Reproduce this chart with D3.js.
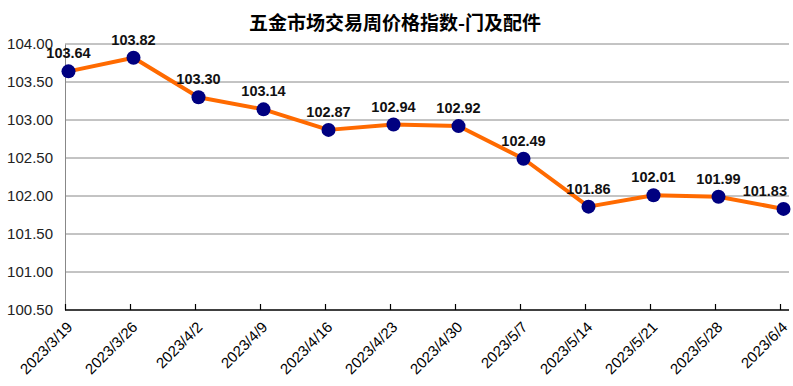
<!DOCTYPE html>
<html>
<head>
<meta charset="utf-8">
<script src="https://cdn.jsdelivr.net/npm/d3@7"></script>
<style>
  body { margin: 0; background: #fff; }
  svg { display: block; }
</style>
</head>
<body>
<svg id="chart" width="793" height="386"></svg>
<script>
var dates = ["2023/3/19", "2023/3/26", "2023/4/2", "2023/4/9", "2023/4/16", "2023/4/23",
             "2023/4/30", "2023/5/7", "2023/5/14", "2023/5/21", "2023/5/28", "2023/6/4"];
var values = [103.64, 103.82, 103.30, 103.14, 102.87, 102.94, 102.92, 102.49, 101.86, 102.01, 101.99, 101.83];
var yTicks = [100.5, 101, 101.5, 102, 102.5, 103, 103.5, 104];

var svg = d3.select("#chart"),
    plotLeft = 65, plotRight = 789, plotTop = 44, plotBottom = 310;

// title
svg.append("text")
    .attr("x", 395).attr("y", 30)
    .attr("text-anchor", "middle")
    .style("font-family", "'Noto Sans CJK SC', sans-serif")
    .style("font-size", "19px")
    .style("font-weight", "bold")
    .text("五金市场交易周价格指数-门及配件");

var x = d3.scalePoint()
    .domain(dates)
    .range([plotLeft, 780]);

var y = d3.scaleLinear()
    .domain([100.5, 104])
    .range([plotBottom, plotTop]);

// gridlines
svg.append("g").selectAll("line")
    .data(yTicks.slice(1))
    .enter().append("line")
    .attr("x1", plotLeft).attr("x2", plotRight)
    .attr("y1", function (d) { return y(d); })
    .attr("y2", function (d) { return y(d); })
    .attr("stroke", "#888").attr("stroke-width", 1);

// y axis
var yAxis = svg.append("g")
    .attr("transform", "translate(" + plotLeft + ",0)")
    .call(d3.axisLeft(y).tickValues(yTicks).tickSize(0).tickPadding(12).tickFormat(d3.format(".2f")));
yAxis.select(".domain").attr("stroke", "#888");
yAxis.selectAll("text")
    .style("font-family", "'Liberation Sans', Arial, sans-serif")
    .style("font-size", "15px")
    .attr("fill", "#222");

// x axis
var xAxis = svg.append("g")
    .attr("transform", "translate(0," + plotBottom + ")")
    .call(d3.axisBottom(x).tickSize(-6).tickSizeOuter(0));
xAxis.select(".domain").attr("d", "M" + plotLeft + ",0H" + plotRight).attr("stroke", "#000").attr("stroke-width", 1.5);
xAxis.selectAll(".tick line").attr("stroke", "#000").attr("stroke-width", 1.2);
xAxis.selectAll("text")
    .style("font-family", "'Liberation Sans', Arial, sans-serif")
    .style("font-size", "15px")
    .attr("fill", "#000")
    .attr("text-anchor", "end")
    .attr("y", 0).attr("dy", 0)
    .attr("transform", "translate(8,18) rotate(-45)");

// series
var px = function (d, i) { return x(dates[i]) + 3.5; };

svg.append("path")
    .datum(values)
    .attr("fill", "none")
    .attr("stroke", "#ff6a00")
    .attr("stroke-width", 4)
    .attr("stroke-linejoin", "round")
    .attr("d", d3.line().x(px).y(function (d) { return y(d); }));

svg.append("g").selectAll("circle")
    .data(values)
    .enter().append("circle")
    .attr("cx", px)
    .attr("cy", function (d) { return y(d); })
    .attr("r", 7)
    .attr("fill", "#000080");

// value labels, last one kept inside the frame
svg.append("g").selectAll("text")
    .data(values)
    .enter().append("text")
    .attr("x", function (d, i) { return i === values.length - 1 ? 787 : px(d, i); })
    .attr("y", function (d) { return y(d) - 13; })
    .attr("text-anchor", function (d, i) { return i === values.length - 1 ? "end" : "middle"; })
    .style("font-family", "'Liberation Sans', Arial, sans-serif")
    .style("font-size", "14.5px")
    .style("font-weight", "bold")
    .attr("fill", "#111")
    .text(function (d) { return d.toFixed(2); });
</script>
</body>
</html>
